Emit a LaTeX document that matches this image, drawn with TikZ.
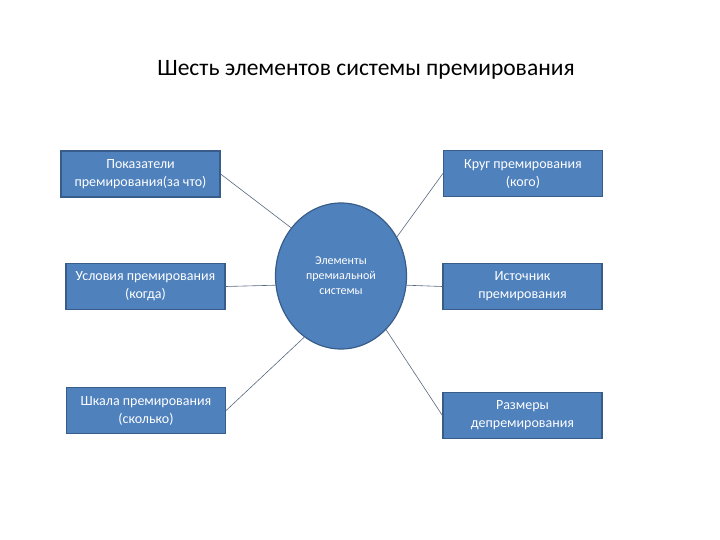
\documentclass[tikz,border=0pt]{standalone}
\usepackage{fontspec}
\setmainfont{Carlito}
\usepackage{xcolor}
\usepackage{tikz}
\usetikzlibrary{shapes, positioning}

\definecolor{boxblue}{HTML}{4F81BD}
\definecolor{boxedge}{HTML}{385D8A}
\definecolor{linkgray}{HTML}{56687F}

\begin{document}
\begin{tikzpicture}[
    x=1pt, y=-1pt,
    elem/.style={rectangle, draw=boxedge, fill=boxblue, line width=1.2pt,
        minimum width=159pt, minimum height=46pt, inner sep=2pt,
        align=center, text=white, font=\fontsize{14}{18}\selectfont},
    hub/.style={ellipse, draw=boxedge, fill=boxblue, line width=1.2pt,
        minimum width=131pt, minimum height=146pt, inner sep=0pt,
        align=center, text=white, font=\fontsize{12}{15}\selectfont},
    link/.style={draw=linkgray, line width=0.6pt}
]
\useasboundingbox (0,0) rectangle (720,540);

\node (title) at (366,70) {\fontsize{23.5}{28}\selectfont Шесть элементов системы премирования};

\node[hub] (hub) at (341,276) {Элементы\\премиальной\\системы};

\node[elem] (pokaz)  at (140.5,174)   {Показатели\\премирования(за что)};
\node[elem] (krug)   at (523,173.5)   {Круг премирования\\(кого)};
\node[elem] (uslov)  at (145.5,286.5) {Условия премирования\\(когда)};
\node[elem] (istoch) at (522.5,286.5) {Источник\\премирования};
\node[elem] (shkala) at (146,410.5)   {Шкала премирования\\(сколько)};
\node[elem] (razmer) at (522.5,415.5) {Размеры\\депремирования};

% lines to the hub
\draw[link] (pokaz.east)  -- (hub.136);
\draw[link] (krug.west)   -- (hub.35);
\draw[link] (uslov.east)  -- (hub.188);
\draw[link] (istoch.west) -- (hub.-8);
\draw[link] (shkala.east) -- (hub.-121);
\draw[link] (razmer.west) -- (hub.-50);
\end{tikzpicture}
\end{document}
